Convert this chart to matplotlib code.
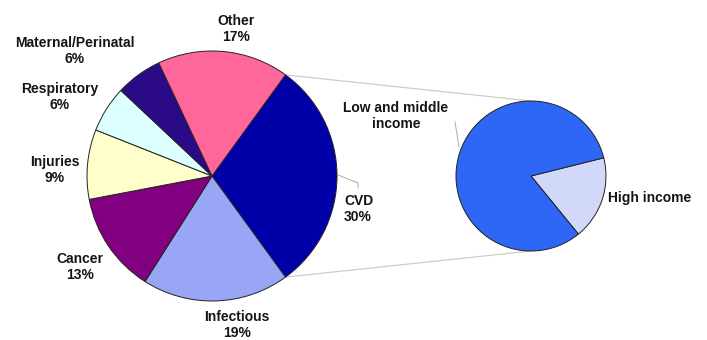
import numpy as np
import matplotlib

matplotlib.use("Agg")
import matplotlib.pyplot as plt

# main pie: causes of death
causes = ["CVD", "Infectious", "Cancer", "Injuries", "Respiratory", "Maternal/Perinatal", "Other"]
shares = [30, 19, 13, 9, 6, 6, 17]
cause_colors = ["#0000a8", "#99a6f6", "#800080", "#ffffcc", "#ddffff", "#2b0a88", "#ff6699"]

# secondary pie: CVD split by income
income_groups = ["High income", "Low and middle\nincome"]
income_shares = [18, 82]
income_colors = ["#d2d8f8", "#2e66f6"]

W, H = 707, 340
fig = plt.figure(figsize=(W / 100, H / 100), dpi=100)
ax = fig.add_axes([0, 0, 1, 1])

c1, r1 = (212, 164), 125
c2, r2 = (531, 164), 75
start1 = 54

edge = dict(edgecolor="#222222", linewidth=0.7)
ax.pie(shares, colors=cause_colors, center=c1, radius=r1, startangle=start1,
       counterclock=False, wedgeprops=edge, frame=True)
ax.pie(income_shares, colors=income_colors, center=c2, radius=r2, startangle=14,
       counterclock=False, wedgeprops=edge, frame=True)
ax.set_xlim(0, W)
ax.set_ylim(0, H)
ax.set_aspect("equal")
ax.axis("off")

# connector lines from the CVD slice to the second pie
a_top = np.deg2rad(start1)
a_bot = np.deg2rad(start1 - shares[0] * 3.6)
for a, yy in [(a_top, c2[1] + r2), (a_bot, c2[1] - r2)]:
    ax.plot([c1[0] + r1 * np.cos(a), c2[0]], [c1[1] + r1 * np.sin(a), yy],
            color="#cccccc", linewidth=0.9, zorder=0)

font = dict(family="Liberation Sans", fontweight="bold", fontsize=10, color="#151515")
label_pos = {
    "CVD": (344, 131, "left"),
    "Infectious": (237, 15, "center"),
    "Cancer": (80, 73, "center"),
    "Injuries": (55, 170, "center"),
    "Respiratory": (60, 243, "center"),
    "Maternal/Perinatal": (75, 289, "center"),
    "Other": (236, 311, "center"),
}
for name, val in zip(causes, shares):
    x, y, ha = label_pos[name]
    ax.text(x, y, f"{name}\n{val}%", ha=ha, va="center", linespacing=1.2, **font)

ax.text(396, 224, income_groups[1], ha="center", va="center", linespacing=1.2, **font)
ax.text(608, 142, income_groups[0], ha="left", va="center", **font)

# leader lines
ax.plot([455, 459], [218, 193], color="#aaaaaa", linewidth=0.7)
ax.plot([338, 358, 358], [165, 157, 152], color="#aaaaaa", linewidth=0.7)

fig.savefig("out.png", dpi=100)
